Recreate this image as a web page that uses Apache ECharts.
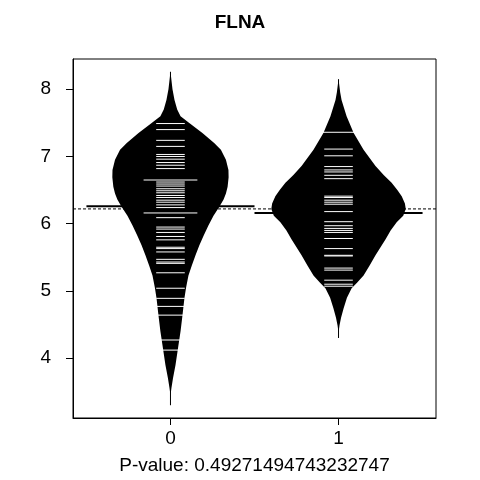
<!DOCTYPE html>
<html>
<head>
<meta charset="utf-8">
<script src="https://cdn.jsdelivr.net/npm/echarts@6/dist/echarts.min.js"></script>
<style>html,body{margin:0;padding:0;background:#fff}#chart{width:480px;height:480px}</style>
</head>
<body>
<div id="chart"></div>
<script>
const groups = [0, 1];
const yTicks = [4, 5, 6, 7, 8];
// density profile: levels (y) and half-widths (x units)
const bean0Levels = [8.26, 8.0, 7.84, 7.7, 7.6, 7.5, 7.35, 7.2, 7.1, 6.95, 6.8, 6.69, 6.55, 6.45, 6.36, 6.25, 6.12, 5.97, 5.82, 5.68, 5.53, 5.38, 5.23, 5.05, 4.89, 4.65, 4.40, 4.15, 3.90, 3.7, 3.56, 3.45];
const bean0Width  = [0, 0.012, 0.024, 0.04, 0.06, 0.11, 0.19, 0.26, 0.30, 0.33, 0.345, 0.346, 0.34, 0.33, 0.316, 0.29, 0.256, 0.225, 0.197, 0.172, 0.149, 0.127, 0.107, 0.093, 0.083, 0.072, 0.06, 0.045, 0.03, 0.015, 0.006, 0];
const bean1Levels = [8.15, 7.95, 7.84, 7.6, 7.35, 7.1, 6.86, 6.72, 6.61, 6.5, 6.41, 6.3, 6.22, 6.12, 6.02, 5.9, 5.77, 5.65, 5.53, 5.38, 5.23, 5.12, 5.04, 4.9, 4.74, 4.6, 4.49, 4.38];
const bean1Width  = [0, 0.01, 0.018, 0.048, 0.09, 0.149, 0.22, 0.27, 0.316, 0.35, 0.376, 0.395, 0.40, 0.385, 0.346, 0.31, 0.28, 0.25, 0.22, 0.185, 0.149, 0.11, 0.078, 0.05, 0.03, 0.015, 0.006, 0];
const bean0Tails = [8.26, 3.3];
const bean1Tails = [8.15, 4.3];
// observations
const bean0Points = [7.49, 7.40, 7.24, 7.15, 7.03, 7.00, 6.96, 6.91, 6.87, 6.82, 6.62, 6.59, 6.56, 6.52, 6.49, 6.46, 6.42, 6.39, 6.35, 6.32, 6.28, 6.24, 6.09, 5.95, 5.92, 5.87, 5.81, 5.76, 5.65, 5.63, 5.58, 5.47, 5.43, 5.41, 5.27, 5.04, 4.89, 4.77, 4.64];
const bean0Repeated = [6.65, 6.16, 4.27, 4.12];
const bean1Points = [7.11, 7.01, 6.85, 6.80, 6.77, 6.72, 6.67, 6.41, 6.39, 6.35, 6.32, 6.29, 6.18, 6.03, 5.97, 5.93, 5.90, 5.87, 5.78, 5.63, 5.53, 5.52, 5.34, 5.31, 5.16, 5.10, 5.07];
const bean1Repeated = [7.36];
const groupMeans = [6.26, 6.16];
const overallMean = 6.22;
const pValue = '0.49271494743232747';

const profiles = [
  {levels: bean0Levels, width: bean0Width, tails: bean0Tails},
  {levels: bean1Levels, width: bean1Width, tails: bean1Tails}
];

function beanItem(params, api) {
  const g = api.value(0);
  const p = profiles[params.dataIndex];
  const pts = [];
  p.levels.forEach((v, i) => pts.push(api.coord([g + p.width[i], v])));
  for (let i = p.levels.length - 1; i >= 0; i--) pts.push(api.coord([g - p.width[i], p.levels[i]]));
  const t1 = api.coord([g, p.tails[0]]), t2 = api.coord([g, p.tails[1]]);
  return {type: 'group', children: [
    {type: 'line', shape: {x1: t1[0], y1: t1[1], x2: t2[0], y2: t2[1]}, style: {stroke: '#000', lineWidth: 1}},
    {type: 'polygon', shape: {points: pts}, style: {fill: '#000'}}
  ]};
}

function segItem(params, api) {
  const a = api.coord([api.value(0), api.value(2)]);
  const b = api.coord([api.value(1), api.value(2)]);
  return {type: 'line', shape: {x1: a[0], y1: a[1], x2: b[0], y2: b[1]},
    style: {stroke: api.visual('color'), lineWidth: api.value(3), lineDash: api.value(4) ? [3, 2] : null}};
}

const segData = [];
[bean0Points, bean1Points].forEach((arr, g) => arr.forEach(v => segData.push([g - 0.085, g + 0.085, v, 1, 0])));
[bean0Repeated, bean1Repeated].forEach((arr, g) => arr.forEach(v => segData.push([g - 0.16, g + 0.16, v, 1, 0])));

const meanData = [
  [-0.5, 0.5, groupMeans[0], 2, 0],
  [0.5, 1.5, groupMeans[1], 2, 0],
  [-0.58, 1.58, overallMean, 1, 1]
];

const font = 'Liberation Sans';
const chart = echarts.init(document.getElementById('chart'));
chart.setOption({
  animation: false,
  title: {text: 'FLNA', left: 'center', top: 8, textStyle: {fontFamily: font, fontSize: 19, fontWeight: 'bold', color: '#000'}},
  grid: {left: 73, right: 44, top: 59, bottom: 60, show: true, borderColor: '#000', borderWidth: 1, backgroundColor: 'transparent'},
  xAxis: {
    type: 'value', min: -0.58, max: 1.58,
    name: 'P-value: ' + pValue, nameLocation: 'middle', nameGap: 38,
    nameTextStyle: {fontFamily: font, fontSize: 19, color: '#000'},
    splitLine: {show: false},
    axisLine: {show: true, onZero: false, lineStyle: {color: '#000'}},
    axisTick: {show: true, length: 7, inside: false, customValues: groups, lineStyle: {color: '#000'}},
    axisLabel: {customValues: groups, fontFamily: font, fontSize: 19, color: '#000', margin: 11}
  },
  yAxis: {
    type: 'value', min: 3.11, max: 8.45,
    splitLine: {show: false},
    axisLine: {show: true, onZero: false, lineStyle: {color: '#000'}},
    axisTick: {show: true, length: 7, inside: false, customValues: yTicks, lineStyle: {color: '#000'}},
    axisLabel: {customValues: yTicks, fontFamily: font, fontSize: 19, color: '#000', margin: 22}
  },
  series: [
    {type: 'custom', renderItem: beanItem, data: groups.map(g => [g]), silent: true, z: 2},
    {type: 'custom', renderItem: segItem, data: segData, itemStyle: {color: '#fff'}, silent: true, z: 3},
    {type: 'custom', renderItem: segItem, data: meanData, itemStyle: {color: '#000'}, silent: true, z: 1}
  ]
});
</script>
</body>
</html>
